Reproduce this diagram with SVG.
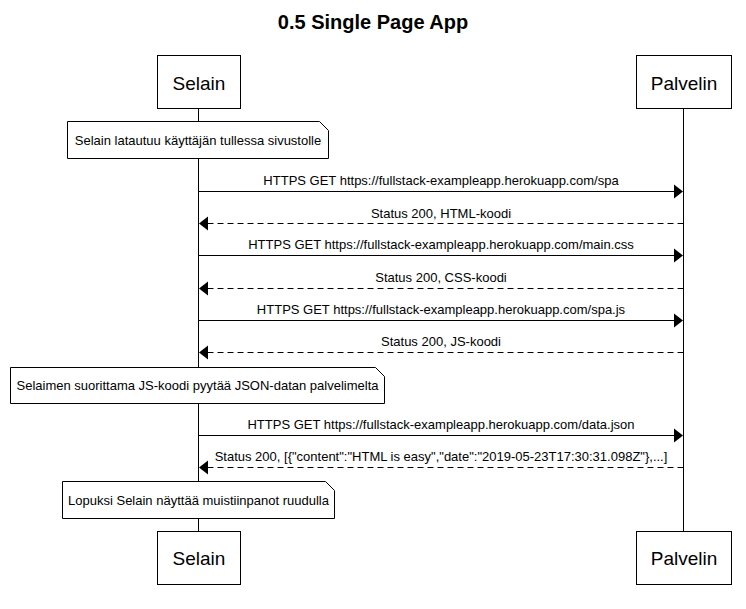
<svg xmlns="http://www.w3.org/2000/svg" width="746" height="609" viewBox="0 0 746 609">
  <style>
    text { font-family: "Liberation Sans", Arial, sans-serif; fill: #000; }
    .title { font-size: 20px; font-weight: bold; text-anchor: middle; }
    .actor rect { fill: #fff; stroke: #000; stroke-width: 1; }
    .actor text { font-size: 19px; text-anchor: middle; }
    .life { stroke: #000; stroke-width: 1; fill: none; }
    .note path { fill: #fff; stroke: #000; stroke-width: 1; }
    .note text { font-size: 13px; text-anchor: middle; }
    .msg line { stroke: #000; stroke-width: 1; }
    .msg line.dash { stroke-dasharray: 6,4; }
    .msg polygon { fill: #000; }
    .msg text { font-size: 13px; text-anchor: middle; }
  </style>

  <rect width="746" height="609" fill="#fff"/>

  <text class="title" x="373" y="29">0.5 Single Page App</text>

  <!-- lifelines -->
  <g id="lifelines">
    <line class="life" x1="198.5" y1="108" x2="198.5" y2="531"/>
    <line class="life" x1="683.5" y1="108" x2="683.5" y2="531"/>
  </g>

  <!-- participants -->
  <g id="selain-top" class="actor">
    <rect x="157.5" y="55.5" width="83" height="53"/>
    <text x="199" y="90">Selain</text>
  </g>
  <g id="palvelin-top" class="actor">
    <rect x="636.5" y="55.5" width="95" height="53"/>
    <text x="684" y="90">Palvelin</text>
  </g>
  <g id="selain-bottom" class="actor">
    <rect x="157.5" y="531.5" width="83" height="53"/>
    <text x="199" y="565">Selain</text>
  </g>
  <g id="palvelin-bottom" class="actor">
    <rect x="636.5" y="531.5" width="95" height="53"/>
    <text x="684" y="565">Palvelin</text>
  </g>

  <!-- notes -->
  <g id="note-load" class="note">
    <path d="M67.5,121.5 H319.5 L328.5,130.5 V158.5 H67.5 Z"/>
    <text x="198" y="145">Selain latautuu käyttäjän tullessa sivustolle</text>
  </g>
  <g id="note-js" class="note">
    <path d="M10.5,367.5 H375.5 L384.5,376.5 V403.5 H10.5 Z"/>
    <text x="197.5" y="390">Selaimen suorittama JS-koodi pyytää JSON-datan palvelimelta</text>
  </g>
  <g id="note-render" class="note">
    <path d="M62.5,481.5 H325.5 L334.5,490.5 V518.5 H62.5 Z"/>
    <text x="198.5" y="504.5">Lopuksi Selain näyttää muistiinpanot ruudulla</text>
  </g>

  <!-- messages -->
  <g id="connectors" class="msg">
    <g id="m1">
      <line x1="198.5" y1="191.5" x2="676" y2="191.5"/>
      <polygon points="683,191.5 674,184.5 674,198.5"/>
      <text x="441" y="185">HTTPS GET https://fullstack-exampleapp.herokuapp.com/spa</text>
    </g>
    <g id="m2">
      <line class="dash" x1="683.5" y1="223.5" x2="206" y2="223.5"/>
      <polygon points="199,223.5 208,216.5 208,230.5"/>
      <text x="441" y="217.5">Status 200, HTML-koodi</text>
    </g>
    <g id="m3">
      <line x1="198.5" y1="255.5" x2="676" y2="255.5"/>
      <polygon points="683,255.5 674,248.5 674,262.5"/>
      <text x="441" y="249">HTTPS GET https://fullstack-exampleapp.herokuapp.com/main.css</text>
    </g>
    <g id="m4">
      <line class="dash" x1="683.5" y1="288.5" x2="206" y2="288.5"/>
      <polygon points="199,288.5 208,281.5 208,295.5"/>
      <text x="441" y="282">Status 200, CSS-koodi</text>
    </g>
    <g id="m5">
      <line x1="198.5" y1="320.5" x2="676" y2="320.5"/>
      <polygon points="683,320.5 674,313.5 674,327.5"/>
      <text x="441" y="314">HTTPS GET https://fullstack-exampleapp.herokuapp.com/spa.js</text>
    </g>
    <g id="m6">
      <line class="dash" x1="683.5" y1="352.5" x2="206" y2="352.5"/>
      <polygon points="199,352.5 208,345.5 208,359.5"/>
      <text x="441" y="346">Status 200, JS-koodi</text>
    </g>
    <g id="m7">
      <line x1="198.5" y1="435.5" x2="676" y2="435.5"/>
      <polygon points="683,435.5 674,428.5 674,442.5"/>
      <text x="441" y="429">HTTPS GET https://fullstack-exampleapp.herokuapp.com/data.json</text>
    </g>
    <g id="m8">
      <line class="dash" x1="683.5" y1="467.5" x2="206" y2="467.5"/>
      <polygon points="199,467.5 208,460.5 208,474.5"/>
      <text x="441" y="461">Status 200, [{"content":"HTML is easy","date":"2019-05-23T17:30:31.098Z"},...]</text>
    </g>
  </g>
</svg>
